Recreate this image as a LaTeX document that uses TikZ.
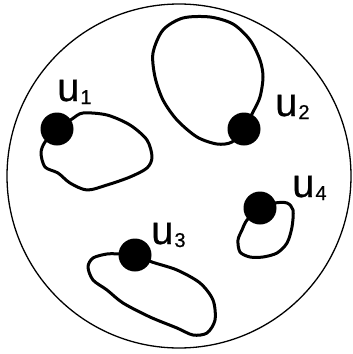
\documentclass[tikz,border=0pt]{standalone}
\usepackage{fontspec}
\setmainfont{Liberation Sans}
\newfontfamily\lblfont[FakeBold=0.6]{Liberation Sans}
\usetikzlibrary{positioning}
\tikzset{
  rimln/.style={line width=1.3pt},
  loopln/.style={line width=3pt, line cap=round, line join=round},
  vtx/.style={circle, fill=black, inner sep=0pt, minimum size=33pt},
  lbl/.style={anchor=base west, inner sep=0pt, font=\lblfont\fontsize{40}{40}\selectfont},
}
\newcommand{\lblsub}[1]{\kern1pt\raisebox{-3pt}{\fontsize{20}{20}\selectfont #1}}

\begin{document}
\begin{tikzpicture}[x=1pt, y=-1pt]
    \useasboundingbox (0,0) rectangle (353,354);
    % Outer disc
    \draw[rimln] (179,176) circle (172);
    % Vertex positions
    \coordinate (c1) at (57,129);
    \coordinate (c2) at (244,129);
    \coordinate (c3) at (135,255);
    \coordinate (c4) at (260,208);
    % Closed loops through the vertices
    \draw[loopln] plot[smooth cycle] coordinates {(c1) (72,119) (83,113) (107,115)
      (130,125) (147,140) (152,157) (147,168) (130,177) (107,185) (87,190)
      (70,183) (58,173) (45,167) (41,153) (45,142)};
    \draw[loopln] plot[smooth cycle] coordinates {(c2) (253,112) (260,97) (263,77)
      (260,60) (250,40) (233,24) (210,17) (183,18) (163,30) (153,53) (155,77)
      (163,100) (177,120) (197,137) (217,144) (232,142)};
    \draw[loopln] plot[smooth cycle] coordinates {(c3) (152,262) (177,270) (200,283)
      (213,300) (215,320) (207,333) (193,335) (177,328) (150,317) (123,303)
      (107,290) (93,280) (88,267) (93,258) (107,254) (120,254)};
    \draw[loopln] plot[smooth cycle] coordinates {(c4) (275,203) (287,203) (293,210)
      (292,227) (287,243) (277,253) (263,257) (250,257) (240,252) (238,240)
      (242,230) (247,220)};
    % Vertices
    \node[vtx] (u1) at (c1) {};
    \node[vtx] (u2) at (c2) {};
    \node[vtx] (u3) at (c3) {};
    \node[vtx] (u4) at (c4) {};
    % Labels
    \node[lbl] (l1) at (57,101) {u\lblsub{1}};
    \node[lbl] (l2) at (275,116) {u\lblsub{2}};
    \node[lbl] (l3) at (151,244) {u\lblsub{3}};
    \node[lbl] (l4) at (292,197) {u\lblsub{4}};
\end{tikzpicture}
\end{document}
